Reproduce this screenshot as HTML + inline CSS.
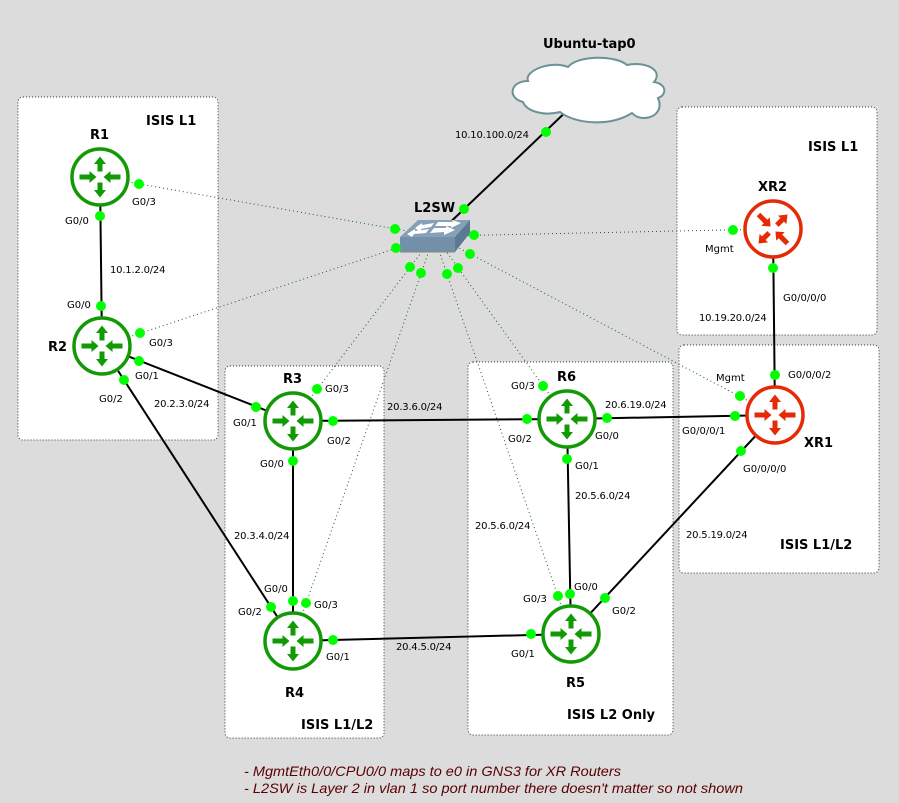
<!DOCTYPE html>
<html><head><meta charset="utf-8"><style>
html,body{margin:0;padding:0;background:#dcdcdc}
svg{display:block}
text{font-family:"DejaVu Sans",sans-serif;font-size:10px;fill:#000}
.b{font-weight:bold;font-size:13px}
.i{letter-spacing:-.2px}
.n{font-family:"Liberation Sans",sans-serif;font-style:italic;font-size:14px;fill:#5a0000}
.g{fill:#fff;stroke:#333;stroke-width:1;stroke-dasharray:1 2}
.s{stroke:#000;stroke-width:2;fill:none}
.d{stroke:#0a6b0a;stroke-width:1;stroke-dasharray:1 3;fill:none}
.c{fill:#0f0}
</style></head><body>
<svg width="899" height="803" viewBox="0 0 899 803" xmlns="http://www.w3.org/2000/svg">
<defs>
<g id="ar"><path d="M0-20.5 L6-13 L2.5-13 L2.5-5.5 L-2.5-5.5 L-2.5-13 L-6-13Z"/></g>
<g id="ai"><path d="M0-3.5 L-6-10.5 L-2.5-10.5 L-2.5-20.5 L2.5-20.5 L2.5-10.5 L6-10.5Z"/></g>
<g id="icon">
<circle r="28" fill="#fff" stroke="currentColor" stroke-width="3.5"/>
<g fill="currentColor">
<use href="#ar"/><use href="#ar" transform="rotate(180)"/>
<use href="#ai" transform="rotate(90)"/><use href="#ai" transform="rotate(-90)"/>
</g></g>
</defs>
<rect width="899" height="803" fill="#dcdcdc"/>

<rect class="g" x="18" y="97" width="200" height="343" rx="5"/>
<rect class="g" x="225" y="366" width="159" height="372" rx="5"/>
<rect class="g" x="468" y="362" width="205" height="373" rx="5"/>
<rect class="g" x="677" y="107" width="200" height="228" rx="5"/>
<rect class="g" x="679" y="345" width="200" height="228" rx="5"/>

<text class="b" x="146" y="125">ISIS L1</text>
<text class="b" x="808" y="151">ISIS L1</text>
<text class="b" x="780" y="549">ISIS L1/L2</text>
<text class="b" x="301" y="729">ISIS L1/L2</text>
<text class="b" x="567" y="719">ISIS L2 Only</text>

<!-- dotted -->
<path class="d" d="M100 177L430 235"/>
<path class="d" d="M102 346L430 237"/>
<path class="d" d="M293 421L430 241"/>
<path class="d" d="M293 641L431 245"/>
<path class="d" d="M571 634L437 245"/>
<path class="d" d="M567 419L438 240"/>
<path class="d" d="M775 415L440 238"/>
<path class="d" d="M773 229L440 236"/>

<!-- solid -->
<path class="s" d="M573 105L439 233"/>
<path class="s" d="M100 177L102 346"/>
<path class="s" d="M102 346L293 421"/>
<path class="s" d="M102 346L293 641"/>
<path class="s" d="M293 421L293 641"/>
<path class="s" d="M293 421L567 419"/>
<path class="s" d="M293 641L571 634"/>
<path class="s" d="M567 419L775 415"/>
<path class="s" d="M567 419L571 634"/>
<path class="s" d="M571 634L775 415"/>
<path class="s" d="M775 415L773 229"/>

<!-- cloud -->
<path d="M528 81C524 71 550 60 568 67C578 55 615 55 627 65C645 61 664 70 654 82C667 84 667 95 658 98C666 116 642 124 632 113C610 127 575 124 560 112C545 116 527 112 523 102C507 98 510 81 528 81Z" fill="#fff" stroke="#6c9296" stroke-width="2"/>

<!-- switch -->
<polygon points="400,237 418,220 470,220 455,237" fill="#86a0b8"/>
<polygon points="400,237 455,237 455,252 400,252" fill="#7390ab"/>
<polygon points="455,237 470,220 470,233 455,252" fill="#5c7993"/>
<path d="M400 252H455" stroke="#888" stroke-width="1"/>
<g fill="#fff">
<polygon points="415,228 422,223 422,225 434,223 431,227 421,229 420,232"/>
<polygon points="438,222 453,222 452,220 461,223 451,228 451,226 435,226"/>
<polygon points="407,234 415,229 415,231 429,229 426,233 414,234 412,237"/>
<polygon points="434,228 446,228 446,226 455,230 444,235 444,232 430,233"/>
</g>

<use href="#icon" x="100" y="177" color="#129a05"/>
<use href="#icon" x="102" y="346" color="#129a05"/>
<use href="#icon" x="293" y="421" color="#129a05"/>
<use href="#icon" x="293" y="641" color="#129a05"/>
<use href="#icon" x="571" y="634" color="#129a05"/>
<use href="#icon" x="567" y="419" color="#129a05"/>
<use href="#icon" x="775" y="415" color="#e52a05"/>
<g transform="translate(773 229) rotate(45)" color="#e52a05"><use href="#icon"/></g>

<!-- dots -->
<g class="c">
<circle cx="546" cy="132" r="5"/><circle cx="464" cy="209" r="5"/>
<circle cx="139" cy="184" r="5"/><circle cx="395" cy="229" r="5"/>
<circle cx="396" cy="248" r="5"/><circle cx="140" cy="333" r="5"/>
<circle cx="474" cy="235" r="5"/><circle cx="733" cy="230" r="5"/>
<circle cx="470" cy="254" r="5"/><circle cx="740" cy="396" r="5"/>
<circle cx="410" cy="267" r="5"/><circle cx="317" cy="389" r="5"/>
<circle cx="421" cy="273" r="5"/><circle cx="306" cy="603" r="5"/>
<circle cx="447" cy="274" r="5"/><circle cx="558" cy="596" r="5"/>
<circle cx="458" cy="268" r="5"/><circle cx="543" cy="386" r="5"/>
<circle cx="100" cy="216" r="5"/><circle cx="101" cy="306" r="5"/>
<circle cx="139" cy="361" r="5"/><circle cx="256" cy="407" r="5"/>
<circle cx="124" cy="380" r="5"/><circle cx="271" cy="607" r="5"/>
<circle cx="293" cy="461" r="5"/><circle cx="293" cy="601" r="5"/>
<circle cx="333" cy="421" r="5"/><circle cx="527" cy="419" r="5"/>
<circle cx="333" cy="640" r="5"/><circle cx="531" cy="634" r="5"/>
<circle cx="607" cy="418" r="5"/><circle cx="735" cy="416" r="5"/>
<circle cx="567" cy="459" r="5"/><circle cx="570" cy="594" r="5"/>
<circle cx="605" cy="598" r="5"/><circle cx="741" cy="451" r="5"/>
<circle cx="775" cy="375" r="5"/><circle cx="773" cy="268" r="5"/>
</g>

<text class="b" x="543" y="48">Ubuntu-tap0</text>
<text class="b" x="414" y="212">L2SW</text>
<text class="b" x="90" y="139">R1</text>
<text class="b" x="48" y="351">R2</text>
<text class="b" x="283" y="383">R3</text>
<text class="b" x="285" y="697">R4</text>
<text class="b" x="566" y="687">R5</text>
<text class="b" x="557" y="381">R6</text>
<text class="b" x="804" y="447">XR1</text>
<text class="b" x="758" y="191">XR2</text>

<text class="i" x="455" y="138">10.10.100.0/24</text>
<text class="i" x="110" y="273">10.1.2.0/24</text>
<text class="i" x="154" y="407">20.2.3.0/24</text>
<text class="i" x="387" y="410">20.3.6.0/24</text>
<text class="i" x="605" y="408">20.6.19.0/24</text>
<text class="i" x="234" y="539">20.3.4.0/24</text>
<text class="i" x="396" y="650">20.4.5.0/24</text>
<text class="i" x="475" y="529">20.5.6.0/24</text>
<text class="i" x="575" y="499">20.5.6.0/24</text>
<text class="i" x="686" y="538">20.5.19.0/24</text>
<text class="i" x="699" y="321">10.19.20.0/24</text>

<text x="132" y="205">G0/3</text>
<text x="65" y="224">G0/0</text>
<text x="67" y="308">G0/0</text>
<text x="149" y="346">G0/3</text>
<text x="135" y="379">G0/1</text>
<text x="99" y="402">G0/2</text>
<text x="325" y="392">G0/3</text>
<text x="233" y="426">G0/1</text>
<text x="327" y="444">G0/2</text>
<text x="260" y="467">G0/0</text>
<text x="264" y="592">G0/0</text>
<text x="314" y="608">G0/3</text>
<text x="238" y="615">G0/2</text>
<text x="326" y="660">G0/1</text>
<text x="511" y="389">G0/3</text>
<text x="508" y="442">G0/2</text>
<text x="595" y="439">G0/0</text>
<text x="575" y="469">G0/1</text>
<text x="574" y="590">G0/0</text>
<text x="523" y="602">G0/3</text>
<text x="612" y="614">G0/2</text>
<text x="511" y="657">G0/1</text>
<text x="705" y="252">Mgmt</text>
<text x="716" y="381">Mgmt</text>
<text x="783" y="301">G0/0/0/0</text>
<text x="788" y="378">G0/0/0/2</text>
<text x="682" y="434">G0/0/0/1</text>
<text x="743" y="472">G0/0/0/0</text>

<text class="n" x="244" y="776" textLength="377" lengthAdjust="spacingAndGlyphs">- MgmtEth0/0/CPU0/0 maps to e0 in GNS3 for XR Routers</text>
<text class="n" x="244" y="793" textLength="499" lengthAdjust="spacingAndGlyphs">- L2SW is Layer 2 in vlan 1 so port number there doesn't matter so not shown</text>
</svg>
</body></html>
